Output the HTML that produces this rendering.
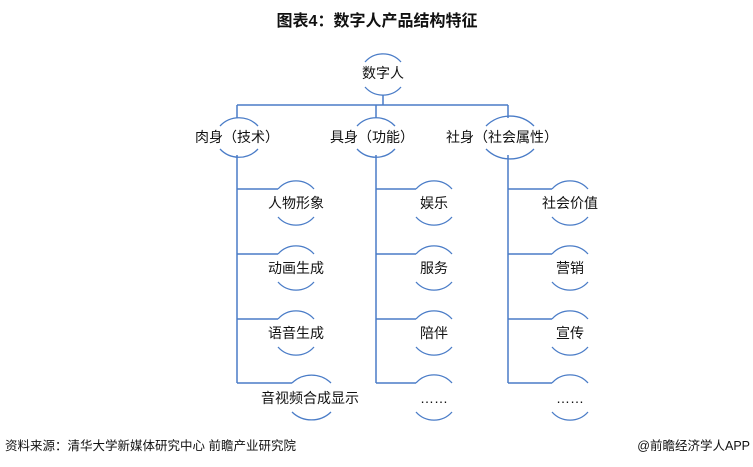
<!DOCTYPE html>
<html><head><meta charset="utf-8"><style>
body{margin:0;background:#fff;width:753px;height:467px;overflow:hidden}
svg{display:block}
text{font-family:"Liberation Sans","Noto Sans CJK SC",sans-serif;fill:#111}
</style></head><body>
<svg width="753" height="467" viewBox="0 0 753 467" xmlns="http://www.w3.org/2000/svg">
<text x="377" y="26" text-anchor="middle" font-size="16" font-weight="bold" fill="#333">图表4：数字人产品结构特征</text>
<g stroke="#4a7cc7" stroke-width="1.5" fill="none">
<path d="M383 95V105M237 105H508M237 105V118M376 105V118M508 105V118"/>
<path d="M237 155V383M237 189H278M237 254H278M237 319H278M237 383H292"/>
<path d="M376 155V383M376 189H416M376 254H416M376 319H416M376 383H416"/>
<path d="M508 155V383M508 189H552M508 254H552M508 319H552M508 383H552"/>
</g>
<g stroke="#4a7cc7" stroke-width="1.3" fill="none" id="arcs">
<!-- root -->
<path d="M365 62A24 24 0 0 1 401 62M365 87A24 24 0 0 0 401 87"/>
<!-- L1 -->
<path d="M220 126A26 26 0 0 1 258 126M220 149A26 26 0 0 0 258 149"/>
<path d="M357 126A26 26 0 0 1 395 126M357 149A26 26 0 0 0 395 149"/>
<path d="M486 126A34 34 0 0 1 534 126M486 149A34 34 0 0 0 534 149"/>
<!-- col1 -->
<path d="M278 189A24 24 0 0 1 314 189M278 217A24 24 0 0 0 314 217"/>
<path d="M278 254A24 24 0 0 1 314 254M278 282A24 24 0 0 0 314 282"/>
<path d="M278 319A24 24 0 0 1 314 319M278 347A24 24 0 0 0 314 347"/>
<path d="M292 383A28 28 0 0 1 331 383M292 412A28 28 0 0 0 331 412"/>
<!-- col2 -->
<path d="M416 189A24 24 0 0 1 452 189M416 217A24 24 0 0 0 452 217"/>
<path d="M416 254A24 24 0 0 1 452 254M416 282A24 24 0 0 0 452 282"/>
<path d="M416 319A24 24 0 0 1 452 319M416 347A24 24 0 0 0 452 347"/>
<path d="M416 383A24 24 0 0 1 452 383M416 412A24 24 0 0 0 452 412"/>
<!-- col3 -->
<path d="M552 189A24 24 0 0 1 588 189M552 217A24 24 0 0 0 588 217"/>
<path d="M552 254A24 24 0 0 1 588 254M552 282A24 24 0 0 0 588 282"/>
<path d="M552 319A24 24 0 0 1 588 319M552 347A24 24 0 0 0 588 347"/>
<path d="M552 383A24 24 0 0 1 588 383M552 412A24 24 0 0 0 588 412"/>
</g>
<g font-size="14" text-anchor="middle">
<text x="383" y="78">数字人</text>
<text x="237" y="142">肉身（技术）</text>
<text x="372" y="142">具身（功能）</text>
<text x="502" y="142">社身（社会属性）</text>
<text x="296" y="208">人物形象</text>
<text x="296" y="273">动画生成</text>
<text x="296" y="338">语音生成</text>
<text x="310" y="403">音视频合成显示</text>
<text x="434" y="208">娱乐</text>
<text x="434" y="273">服务</text>
<text x="434" y="338">陪伴</text>
<text x="434" y="403">……</text>
<text x="570" y="208">社会价值</text>
<text x="570" y="273">营销</text>
<text x="570" y="338">宣传</text>
<text x="570" y="403">……</text>
</g>
<text x="5" y="450" font-size="12.5" fill="#222">资料来源：清华大学新媒体研究中心 前瞻产业研究院</text>
<text x="750" y="450" font-size="12.5" text-anchor="end" fill="#222">@前瞻经济学人APP</text>
</svg>
</body></html>
